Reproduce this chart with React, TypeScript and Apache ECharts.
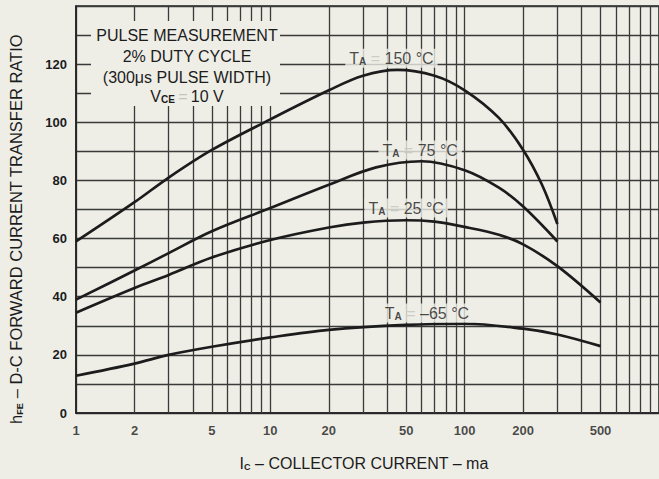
import React, { useEffect, useRef } from "react";
import * as echarts from "echarts";

// Collector current (mA) / hFE readings per ambient temperature
const curve150: [number, number][] = [
  [1, 59], [2, 72.5], [3, 81], [5, 90.5], [10, 101], [20, 111], [30, 116], [45, 118],
  [70, 116], [100, 111], [150, 101.5], [200, 90.5], [250, 78.5], [300, 65],
];
const curve75: [number, number][] = [
  [1, 39], [2, 49], [3, 55], [5, 62.5], [10, 70.5], [20, 78.5], [35, 84.5], [60, 86.6],
  [100, 83.5], [150, 77.5], [200, 71], [300, 59],
];
const curve25: [number, number][] = [
  [1, 34.5], [2, 43], [3, 47.5], [5, 53.5], [10, 59.5], [20, 63.8], [30, 65.5], [50, 66.3],
  [70, 65.8], [100, 64], [150, 61.3], [200, 58], [300, 50.5], [500, 38],
];
const curveM65: [number, number][] = [
  [1, 12.8], [2, 17], [3, 20], [5, 22.8], [10, 26], [20, 28.6], [50, 30.3], [100, 30.7],
  [200, 29], [300, 27], [500, 23],
];

const xTickLabels = [1, 2, 5, 10, 20, 50, 100, 200, 500];
const minorGridX = [2, 3, 4, 5, 6, 7, 8, 9, 20, 30, 40, 50, 60, 70, 80, 90, 200, 300, 400, 500, 600, 700, 800, 900];

const curveLabels = ["150 °C", "75 °C", "25 °C", "–65 °C"];
const curveLabelPos: [number, number][] = [[42, 122], [59, 90.5], [50, 70.5], [64, 34.4]];

const boxLines = ["PULSE MEASUREMENT", "2% DUTY CYCLE", "(300μs PULSE WIDTH)"];

const BG = "#eeeee7";
const INK = "#1c1c1c";
const GRID = "#3a3a3a";
const FONT = "'Liberation Sans', Arial, sans-serif";

export default function App() {
  const ref = useRef<HTMLDivElement>(null);
  useEffect(() => {
    if (!ref.current) return;
    const chart = echarts.init(ref.current, null, { renderer: "svg" });
    const curveSeries = [curve150, curve75, curve25, curveM65].map((d, i) => ({
      type: "line",
      name: curveLabels[i],
      data: d,
      smooth: 0.35,
      symbol: "none",
      z: 5,
      lineStyle: { color: INK, width: 2.7 },
    }));
    chart.setOption({
      animation: false,
      backgroundColor: BG,
      textStyle: { fontFamily: FONT },
      grid: {
        left: 76, top: 6, width: 584, height: 407,
        show: true, borderColor: "#222", borderWidth: 1.5,
      },
      xAxis: {
        type: "log", logBase: 10, min: 1, max: 1000,
        axisLabel: { show: false },
        axisTick: { show: false },
        axisLine: { show: true, lineStyle: { color: "#222", width: 1.5 } },
        splitLine: { show: true, lineStyle: { color: GRID, width: 1.3 } },
      },
      yAxis: {
        type: "value", min: 0, max: 140, interval: 10,
        axisLine: { show: true, lineStyle: { color: "#222", width: 1.5 } },
        axisTick: { show: false },
        axisLabel: {
          margin: 9, fontSize: 13, fontWeight: "bold", color: INK, fontFamily: FONT,
          formatter: (v: number) => (v % 20 === 0 && v < 140 ? String(v) : ""),
        },
        splitLine: { show: true, lineStyle: { color: GRID, width: 1.3 } },
      },
      series: [
        {
          type: "line",
          data: [],
          z: 1,
          silent: true,
          markLine: {
            silent: true,
            symbol: "none",
            label: { show: false },
            lineStyle: { color: GRID, width: 1.3, type: "solid" },
            data: minorGridX.map((x) => ({ xAxis: x })),
          },
        },
        ...curveSeries,
        {
          type: "scatter",
          data: xTickLabels.map((x) => [x, 0]),
          symbolSize: 0,
          clip: false,
          silent: true,
          z: 6,
          label: {
            show: true, position: "bottom", distance: 11,
            fontSize: 13, fontWeight: "bold", color: INK, fontFamily: FONT,
            formatter: (p: any) => String(p.value[0]),
          },
        },
        {
          type: "scatter",
          data: curveLabelPos,
          symbolSize: 0,
          silent: true,
          z: 8,
          label: {
            show: true, position: "inside",
            backgroundColor: BG, padding: [2, 4, 1, 4],
            fontSize: 16, color: INK, fontFamily: FONT,
            formatter: (p: any) => `{t|T}{s|A} {e|=} ${curveLabels[p.dataIndex]}`,
            rich: {
              t: { fontSize: 16, color: INK, fontFamily: FONT },
              s: { fontSize: 10, color: INK, fontWeight: "bold", verticalAlign: "bottom", fontFamily: FONT },
              e: { fontSize: 16, color: "#c4c4bd", fontFamily: FONT },
            },
          },
        },
      ],
      graphic: [
        {
          type: "rect", z: 20,
          shape: { x: 91, y: 21, width: 189, height: 85 },
          style: { fill: BG },
        },
        ...boxLines.map((t, i) => ({
          type: "text", z: 21,
          x: 187, y: 35 + i * 21,
          style: {
            text: t, fill: INK, font: `16px ${FONT}`,
            align: "center", verticalAlign: "middle",
          },
        })),
        {
          type: "text", z: 21, x: 187, y: 96,
          style: {
            text: "{v|V}{s|CE} {e|=} {v|10 V}",
            align: "center", verticalAlign: "middle",
            rich: {
              v: { fontSize: 16, fill: INK, fontFamily: FONT },
              s: { fontSize: 10, fill: INK, fontWeight: "bold", fontFamily: FONT, verticalAlign: "bottom" },
              e: { fontSize: 16, fill: "#c4c4bd", fontFamily: FONT },
            },
          },
        },
        {
          type: "text", z: 21, x: 16, y: 229, rotation: Math.PI / 2,
          style: {
            text: "{m|h}{s|FE}{m| – D-C FORWARD CURRENT TRANSFER RATIO}",
            align: "center", verticalAlign: "middle",
            rich: {
              m: { fontSize: 16.5, fill: INK, fontFamily: FONT },
              s: { fontSize: 9, fill: INK, fontWeight: "bold", fontFamily: FONT, verticalAlign: "bottom" },
            },
          },
        },
        {
          type: "text", z: 21, x: 364, y: 463,
          style: {
            text: "{m|I}{s|C}{m| – COLLECTOR CURRENT – ma}",
            align: "center", verticalAlign: "middle",
            rich: {
              m: { fontSize: 16, fill: INK, fontFamily: FONT },
              s: { fontSize: 9, fill: INK, fontWeight: "bold", fontFamily: FONT, verticalAlign: "bottom" },
            },
          },
        },
      ],
    });
    return () => chart.dispose();
  }, []);
  return (
    <div
      ref={ref}
      style={{ position: "fixed", left: 0, top: 0, width: 659, height: 479 }}
    />
  );
}
